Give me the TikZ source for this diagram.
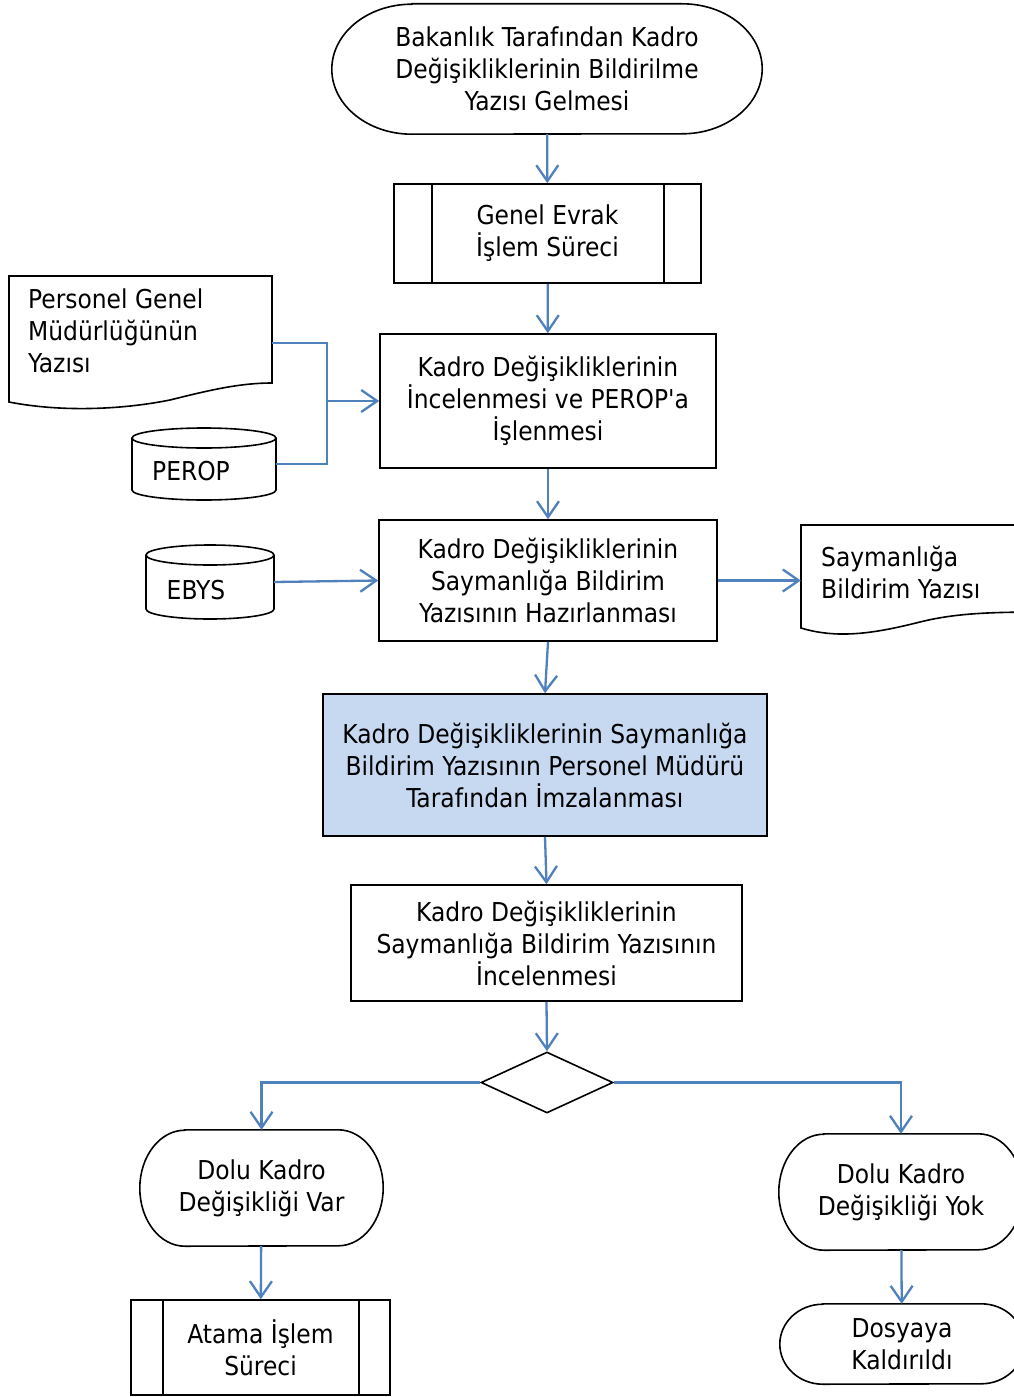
\documentclass[tikz,border=0pt]{standalone}
\usepackage{fontspec}
\setmainfont[Ligatures=TeXOff]{DejaVu Sans Condensed}
\usetikzlibrary{arrows.meta,shapes.geometric}
\definecolor{lnblue}{HTML}{4F81BD}
\definecolor{boxfill}{HTML}{C6D9F1}
\newcommand\termpath[3]{%
  \draw[shp] ([xshift=#2]#1.north west) -- ([xshift=-#2]#1.north east)
    arc[start angle=90,end angle=-90,x radius=#2,y radius=#3]
    -- ([xshift=#2]#1.south west)
    arc[start angle=270,end angle=90,x radius=#2,y radius=#3] -- cycle;}
\newcommand\procbars[3]{%
  \draw[shp] ([xshift=#2]#1.north west) -- ([xshift=#2]#1.south west);
  \draw[shp] ([xshift=-#3]#1.north east) -- ([xshift=-#3]#1.south east);}
\begin{document}
\begin{tikzpicture}[x=1pt,y=-1pt,
  every node/.style={font=\fontsize{26}{32}\selectfont, align=center, inner sep=0pt, text=black},
  shp/.style={draw=black, line width=1.6pt},
  boxn/.style={shp, rectangle},
  conn/.style={draw=lnblue, line width=2.3pt, -{Straight Barb[length=16pt,width=22pt]}},
  plain/.style={draw=lnblue, line width=2.3pt}]
\clip (0,0) rectangle (1014,1397);
\fill[white] (0,0) rectangle (1014,1397);

% start terminal
\node (start) at (547,69) [minimum width=430pt, minimum height=130pt] {Bakanlık Tarafından Kadro\\Değişikliklerinin Bildirilme\\Yazısı Gelmesi};
\termpath{start}{80pt}{65pt}

% predefined process
\node[boxn, minimum width=307pt, minimum height=99pt] (gen) at (547.5,233.5) {Genel Evrak\\İşlem Süreci};
\procbars{gen}{39pt}{38pt}

% incelenmesi
\node[boxn, minimum width=336pt, minimum height=134pt] (inc) at (548,401) {Kadro Değişikliklerinin\\İncelenmesi ve PEROP'a\\İşlenmesi};

% document 1
\node (pgmdoc) at (140.5,339) [minimum width=263pt, minimum height=126pt] {};
\draw[shp] (9,276) -- (272,276) -- (272,383)
  .. controls (240,383) and (210,390) .. (170,400)
  .. controls (120,410) and (60,412) .. (9,402) -- cycle;
\node[anchor=west, align=left] (pgmtxt) at (28,331) {Personel Genel\\Müdürlüğünün\\Yazısı};

% PEROP cylinder
\node (perop) at (204,464) [minimum width=144pt, minimum height=72pt] {};
\draw[shp] (132,438) -- (132,490) arc[start angle=180,end angle=360,x radius=72pt,y radius=10pt] -- (276,438);
\draw[shp] (204,438) ellipse[x radius=72pt,y radius=10pt];
\node (peroptxt) at (191,471) {PEROP};

% hazirlanmasi
\node[boxn, minimum width=338pt, minimum height=121pt] (rev) at (548,580.5) {Kadro Değişikliklerinin\\Saymanlığa Bildirim\\Yazısının Hazırlanması};

% EBYS cylinder
\node (ebys) at (210,582) [minimum width=128pt, minimum height=74pt] {};
\draw[shp] (146,555) -- (146,609) arc[start angle=180,end angle=360,x radius=64pt,y radius=10pt] -- (274,555);
\draw[shp] (210,555) ellipse[x radius=64pt,y radius=10pt];
\node (ebystxt) at (196,590) {EBYS};

% document 2
\node (saydoc) at (930.5,576.5) [minimum width=259pt, minimum height=103pt] {};
\draw[shp] (801,525) -- (1060,525) -- (1060,612)
  .. controls (1000,612) and (960,612) .. (920,622)
  .. controls (880,632) and (840,640) .. (801,628) -- cycle;
\node[anchor=west, align=left] (saytxt) at (821,572) {Saymanlığa\\Bildirim Yazısı};

% signature
\node[boxn, fill=boxfill, minimum width=444pt, minimum height=142pt] (sign) at (545,765) {Kadro Değişikliklerinin Saymanlığa\\Bildirim Yazısının Personel Müdürü\\Tarafından İmzalanması};

% review
\node[boxn, minimum width=391pt, minimum height=116pt] (rev2) at (546.5,943) {Kadro Değişikliklerinin\\Saymanlığa Bildirim Yazısının\\İncelenmesi};

% decision
\node[shp, diamond, minimum width=132pt, minimum height=61pt] (dec) at (547,1082.5) {};

% outcomes
\node (var) at (261.5,1188) [minimum width=243pt, minimum height=116pt] {Dolu Kadro\\Değişikliği Var};
\termpath{var}{45pt}{58pt}
\node (yok) at (901,1192) [minimum width=244pt, minimum height=116pt] {Dolu Kadro\\Değişikliği Yok};
\termpath{yok}{45pt}{58pt}

\node[boxn, minimum width=259pt, minimum height=95pt] (ata) at (260.5,1347.5) {Atama İşlem\\Süreci};
\procbars{ata}{33pt}{32pt}

\node (dos) at (902,1344) [minimum width=244pt, minimum height=80pt] {Dosyaya\\Kaldırıldı};
\termpath{dos}{43pt}{40pt}

% connectors
\draw[conn] (start) -- (gen);
\draw[conn] (gen) -- (inc);
\draw[conn] (inc) -- (rev);
\draw[conn] (rev.south) -- (sign.north);
\draw[conn] (sign.south) -- (rev2.north);
\draw[conn] (rev2.south) -- (dec.north);
\draw[conn] ([yshift=-4pt]pgmdoc.east) -- (327,343) |- (inc.west);
\draw[plain] (perop.east) -| (327,401);
\draw[conn] (ebys.east) -- (rev.west);
\draw[conn] (rev.east) -- (rev.east -| saydoc.west);
\draw[conn] (dec.west) -| (var.north);
\draw[conn] (dec.east) -| (yok.north);
\draw[conn] (var) -- (ata);
\draw[conn] (yok) -- (dos);
\end{tikzpicture}
\end{document}
